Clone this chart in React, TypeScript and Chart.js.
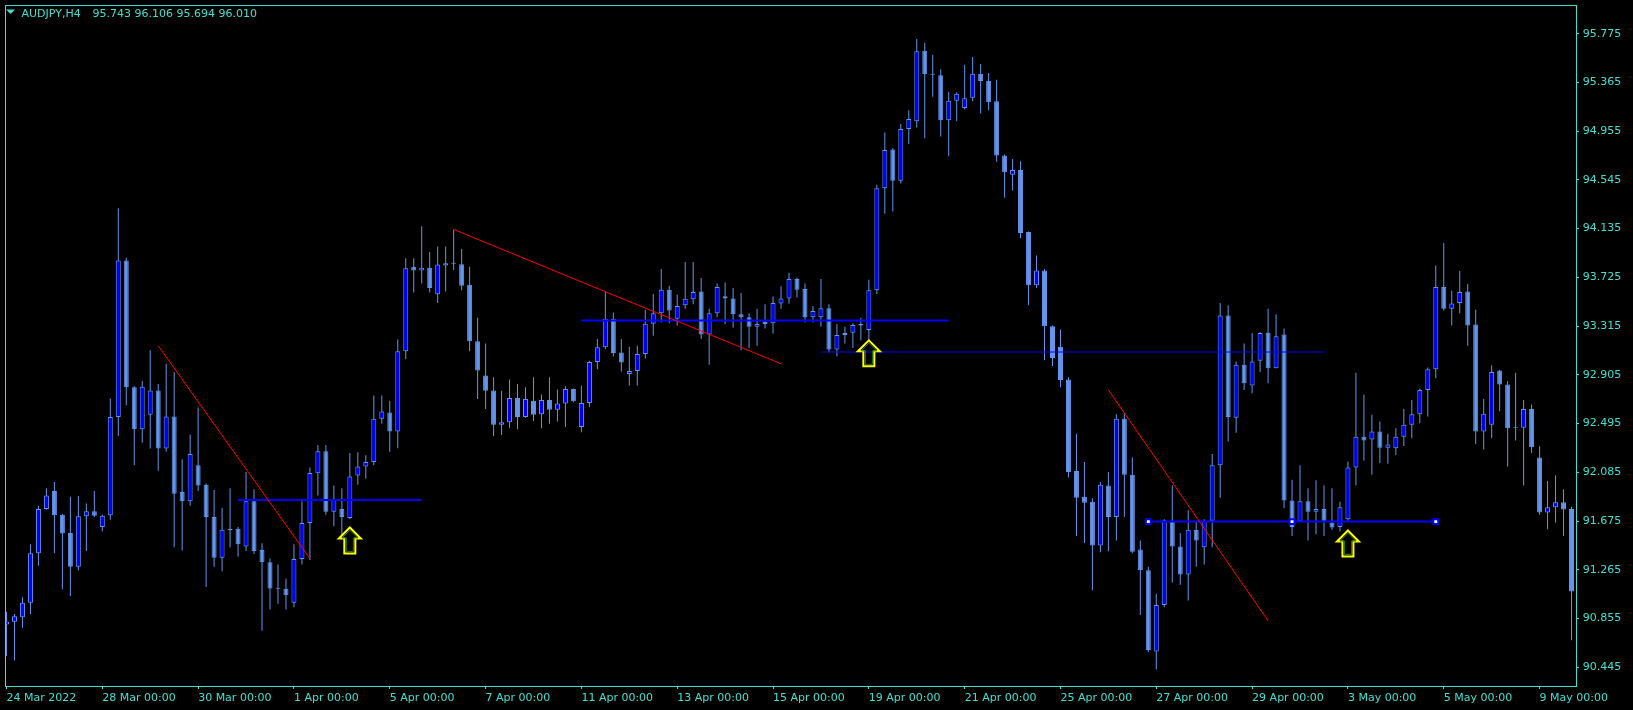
import React, { useEffect, useRef } from "react";
import { Chart, registerables } from "chart.js";

Chart.register(...registerables);

// ---------- data ----------
const OPEN = [
  90.805, 90.828, 90.866, 90.987, 91.404, 91.776, 91.928, 91.727, 91.575, 91.291,
  91.715, 91.757, 91.624, 91.723, 92.550, 93.867, 92.801, 92.448, 92.569, 92.774,
  92.285, 92.554, 91.920, 91.841, 92.144, 91.981, 91.708, 91.366, 91.606, 91.609,
  91.461, 91.841, 91.431, 91.329, 91.108, 91.105, 90.987, 91.355, 91.659, 92.076,
  92.262, 91.753, 91.776, 91.700, 92.057, 92.133, 92.171, 92.535, 92.588, 92.429,
  93.104, 93.814, 93.783, 93.806, 93.582, 93.825, 93.844, 93.836, 93.662, 93.188,
  92.899, 92.774, 92.486, 92.505, 92.709, 92.550, 92.687, 92.573, 92.694, 92.611,
  92.664, 92.785, 92.467, 92.668, 93.013, 93.138, 93.377, 93.093, 92.911, 92.937,
  93.081, 93.335, 93.423, 93.620, 93.377, 93.491, 93.540, 93.605, 93.244, 93.423,
  93.567, 93.548, 93.415, 93.389, 93.309, 93.351, 93.339, 93.506, 93.548, 93.711,
  93.628, 93.389, 93.389, 93.465, 93.119, 93.241, 93.260, 93.320, 93.282, 93.616,
  94.474, 94.800, 94.538, 94.974, 95.039, 95.631, 95.434, 95.426, 95.047, 95.210,
  95.149, 95.236, 95.437, 95.380, 95.206, 94.751, 94.588, 94.629, 94.106, 93.658,
  93.783, 93.313, 93.142, 92.865, 92.095, 91.879, 91.837, 91.469, 91.973, 91.708,
  92.535, 92.065, 91.435, 91.260, 90.577, 90.968, 91.678, 91.461, 91.226, 91.602,
  91.454, 91.678, 92.144, 93.404, 92.543, 92.990, 92.816, 93.024, 93.260, 92.960,
  93.244, 91.848, 91.670, 91.841, 91.753, 91.776, 91.663, 91.624, 91.689, 92.125,
  92.383, 92.360, 92.429, 92.292, 92.288, 92.383, 92.486, 92.573, 92.778, 92.952,
  93.643, 93.461, 93.510, 93.605, 93.328, 92.429, 92.486, 92.941, 92.823, 92.459,
  92.459, 92.618, 92.209, 91.746, 91.791, 91.833, 91.776,
];

const HIGH = [
  90.911, 90.892, 91.033, 91.480, 91.803, 91.951, 92.004, 91.735, 91.879, 91.886,
  91.822, 91.928, 91.730, 92.706, 94.307, 93.890, 92.808, 92.854, 93.112, 92.827,
  92.998, 92.929, 92.194, 92.402, 92.630, 91.990, 91.935, 91.784, 91.951, 91.624,
  92.087, 91.943, 91.488, 91.360, 91.310, 91.190, 91.480, 91.841, 92.125, 92.315,
  92.315, 91.973, 91.951, 92.247, 92.254, 92.228, 92.732, 92.732, 92.687, 93.203,
  93.886, 93.886, 94.155, 93.939, 93.984, 93.984, 94.128, 93.965, 93.814, 93.385,
  93.169, 92.884, 92.770, 92.865, 92.827, 92.801, 92.884, 92.740, 92.884, 92.782,
  92.808, 92.790, 92.816, 93.024, 93.206, 93.605, 93.430, 93.206, 93.142, 93.150,
  93.453, 93.586, 93.795, 93.654, 93.578, 93.855, 93.855, 93.719, 93.461, 93.673,
  93.681, 93.635, 93.593, 93.423, 93.461, 93.499, 93.563, 93.650, 93.764, 93.722,
  93.673, 93.483, 93.711, 93.499, 93.332, 93.309, 93.339, 93.385, 93.704, 94.504,
  94.944, 94.811, 95.016, 95.130, 95.730, 95.699, 95.597, 95.475, 95.286, 95.282,
  95.513, 95.578, 95.521, 95.445, 95.388, 94.758, 94.720, 94.701, 94.110, 93.908,
  93.795, 93.320, 93.286, 92.884, 92.410, 92.171, 91.867, 92.004, 92.087, 92.573,
  92.580, 92.209, 91.511, 91.291, 91.063, 91.689, 91.973, 91.575, 91.765, 91.670,
  91.689, 92.239, 93.510, 93.491, 93.017, 93.169, 93.256, 93.263, 93.461, 93.415,
  93.294, 92.023, 92.144, 91.951, 92.019, 91.977, 91.951, 91.837, 92.175, 92.922,
  92.740, 92.569, 92.512, 92.410, 92.455, 92.618, 92.694, 92.789, 92.967, 93.825,
  94.015, 93.612, 93.779, 93.669, 93.453, 92.702, 92.986, 92.945, 92.854, 92.922,
  92.694, 92.656, 92.304, 92.011, 92.061, 91.943, 91.795,
];

const LOW = [
  90.539, 90.501, 90.778, 90.892, 91.298, 91.769, 91.404, 91.101, 91.044, 91.260,
  91.423, 91.708, 91.586, 91.685, 92.391, 92.649, 92.144, 92.334, 92.285, 92.099,
  92.258, 91.454, 91.427, 91.803, 91.928, 91.120, 91.291, 91.253, 91.454, 91.374,
  91.423, 91.397, 90.752, 90.930, 90.980, 90.930, 90.950, 91.310, 91.348, 91.890,
  91.727, 91.632, 91.556, 91.689, 91.981, 92.030, 92.144, 92.493, 92.258, 92.288,
  93.036, 93.597, 93.673, 93.597, 93.510, 93.605, 93.787, 93.616, 93.104, 92.702,
  92.618, 92.391, 92.398, 92.459, 92.448, 92.543, 92.516, 92.455, 92.493, 92.512,
  92.467, 92.675, 92.421, 92.634, 92.952, 93.123, 93.059, 92.933, 92.816, 92.816,
  93.043, 93.233, 93.347, 93.339, 93.320, 93.461, 93.499, 93.206, 92.990, 93.389,
  93.332, 93.301, 93.112, 93.131, 93.150, 93.294, 93.252, 93.461, 93.503, 93.556,
  93.347, 93.347, 93.309, 93.093, 93.062, 93.169, 93.131, 93.195, 93.195, 93.586,
  94.261, 94.280, 94.515, 94.846, 94.986, 94.895, 95.244, 94.910, 94.743, 95.039,
  95.138, 95.206, 95.104, 95.130, 94.698, 94.394, 94.455, 94.053, 93.491, 93.635,
  93.028, 92.979, 92.801, 92.042, 91.549, 91.491, 91.093, 91.412, 91.420, 91.511,
  91.708, 91.404, 90.885, 90.570, 90.425, 90.949, 91.158, 91.139, 91.006, 91.291,
  91.310, 91.454, 91.871, 92.345, 92.417, 92.778, 92.751, 92.929, 92.835, 92.960,
  91.784, 91.549, 91.670, 91.511, 91.564, 91.549, 91.602, 91.586, 91.678, 91.973,
  92.182, 92.065, 92.163, 92.156, 92.231, 92.307, 92.372, 92.497, 92.554, 92.876,
  93.446, 93.320, 93.423, 93.150, 92.323, 92.277, 92.372, 92.599, 92.133, 92.353,
  91.973, 92.247, 91.727, 91.605, 91.662, 91.549, 90.672,
];

const CLOSE = [
  90.830, 90.873, 90.987, 91.404, 91.776, 91.890, 91.723, 91.571, 91.291, 91.715,
  91.757, 91.719, 91.719, 92.550, 93.867, 92.801, 92.448, 92.804, 92.774, 92.285,
  92.554, 91.905, 91.841, 92.239, 91.973, 91.708, 91.366, 91.602, 91.600, 91.480,
  91.841, 91.423, 91.329, 91.108, 91.105, 91.050, 91.355, 91.659, 92.080, 92.262,
  91.753, 91.852, 91.708, 92.049, 92.133, 92.171, 92.535, 92.596, 92.429, 93.104,
  93.802, 93.783, 93.806, 93.635, 93.833, 93.844, 93.840, 93.654, 93.188, 92.941,
  92.770, 92.486, 92.505, 92.709, 92.550, 92.702, 92.569, 92.694, 92.611, 92.664,
  92.785, 92.683, 92.668, 93.013, 93.138, 93.377, 93.089, 93.009, 92.937, 93.081,
  93.335, 93.423, 93.620, 93.446, 93.483, 93.544, 93.601, 93.244, 93.423, 93.643,
  93.548, 93.415, 93.389, 93.309, 93.332, 93.332, 93.510, 93.548, 93.711, 93.620,
  93.389, 93.442, 93.465, 93.119, 93.241, 93.256, 93.324, 93.332, 93.616, 94.474,
  94.796, 94.538, 94.974, 95.058, 95.627, 95.434, 95.430, 95.047, 95.210, 95.270,
  95.232, 95.437, 95.377, 95.198, 94.751, 94.610, 94.629, 94.098, 93.658, 93.783,
  93.313, 93.047, 92.861, 92.087, 91.871, 91.829, 91.469, 91.981, 91.708, 92.535,
  92.065, 91.416, 91.260, 90.589, 90.968, 91.681, 91.461, 91.226, 91.602, 91.511,
  91.678, 92.144, 93.404, 92.550, 92.990, 92.835, 93.017, 93.256, 92.960, 93.229,
  91.848, 91.624, 91.841, 91.753, 91.776, 91.678, 91.621, 91.791, 92.125, 92.383,
  92.353, 92.429, 92.292, 92.319, 92.383, 92.486, 92.573, 92.778, 92.952, 93.643,
  93.461, 93.506, 93.601, 93.320, 92.429, 92.577, 92.929, 92.823, 92.455, 92.455,
  92.618, 92.296, 91.746, 91.791, 91.833, 91.772, 91.082,
];

const DATE_TICK_INDEX = [0, 12, 24, 36, 48, 60, 72, 84, 96, 108, 120, 132, 144, 156, 168, 180, 192];
const DATE_TICK_LABELS = [
  "24 Mar 2022", "28 Mar 00:00", "30 Mar 00:00", "1 Apr 00:00", "5 Apr 00:00",
  "7 Apr 00:00", "11 Apr 00:00", "13 Apr 00:00", "15 Apr 00:00", "19 Apr 00:00",
  "21 Apr 00:00", "25 Apr 00:00", "27 Apr 00:00", "29 Apr 00:00", "3 May 00:00",
  "5 May 00:00", "9 May 00:00",
];
const PRICE_TICKS = [
  95.775, 95.365, 94.955, 94.545, 94.135, 93.725, 93.315,
  92.905, 92.495, 92.085, 91.675, 91.265, 90.855, 90.445,
];

const SYMBOL_TEXT = "AUDJPY,H4";
const OHLC_TEXT = "95.743 96.106 95.694 96.010";

// red trend lines (bar index / price of both ends)
const RED_TREND_X1 = [19, 56, 138];
const RED_TREND_Y1 = [93.150, 94.128, 92.778];
const RED_TREND_X2 = [38, 97, 158];
const RED_TREND_Y2 = [91.359, 92.998, 90.835];

// blue horizontal levels
const BLUE_LEVEL_PRICE = [91.852, 93.362, 93.097, 91.670];
const BLUE_LEVEL_FROM = [29, 72, 102, 143];
const BLUE_LEVEL_TO = [52, 118, 165, 179];

// signal arrows
const ARROW_BAR = [43, 108, 168];
const ARROW_PRICE = [91.621, 93.195, 91.595];

// ---------- styles ----------
const TEXT = "#40E0D0";
const CANDLE = "#6495ED";
const BULL_FILL = "#0000FF";
const FONT_FAMILY = '"DejaVu Sans", sans-serif';

function drawArrow(ctx: CanvasRenderingContext2D, cx: number, top: number) {
  const hw = 11, sw = 5.5, hh = 11, h = 26;
  ctx.save();
  ctx.beginPath();
  ctx.moveTo(cx, top);
  ctx.lineTo(cx + hw, top + hh);
  ctx.lineTo(cx + sw, top + hh);
  ctx.lineTo(cx + sw, top + h);
  ctx.lineTo(cx - sw, top + h);
  ctx.lineTo(cx - sw, top + hh);
  ctx.lineTo(cx - hw, top + hh);
  ctx.closePath();
  ctx.lineJoin = "miter";
  ctx.strokeStyle = "#FFFF00";
  ctx.lineWidth = 2;
  ctx.stroke();
  // inner green edge
  const ihw = hw - 3.2, isw = sw - 2, ihh = hh - 0.5;
  ctx.beginPath();
  ctx.moveTo(cx, top + 2.8);
  ctx.lineTo(cx + ihw, top + ihh);
  ctx.lineTo(cx + isw, top + ihh);
  ctx.lineTo(cx + isw, top + h - 2);
  ctx.lineTo(cx - isw, top + h - 2);
  ctx.lineTo(cx - isw, top + ihh);
  ctx.lineTo(cx - ihw, top + ihh);
  ctx.closePath();
  ctx.strokeStyle = "#1E7A1E";
  ctx.lineWidth = 1;
  ctx.stroke();
  ctx.restore();
}

const mt4Plugin = {
  id: "mt4Decor",
  beforeDraw(chart: any) {
    const ctx = chart.ctx as CanvasRenderingContext2D;
    ctx.save();
    ctx.fillStyle = "#000000";
    ctx.fillRect(0, 0, chart.width, chart.height);
    ctx.restore();
  },
  afterDatasetsDraw(chart: any) {
    const ctx = chart.ctx as CanvasRenderingContext2D;
    const { left, top, right, bottom } = chart.chartArea;
    const xs = chart.scales.x;
    const ys = chart.scales.y;
    // arrows
    ctx.save();
    ctx.beginPath();
    ctx.rect(left, top, right - left, bottom - top);
    ctx.clip();
    for (let k = 0; k < ARROW_BAR.length; k++) {
      drawArrow(ctx, xs.getPixelForValue(ARROW_BAR[k]), ys.getPixelForValue(ARROW_PRICE[k]));
    }
    ctx.restore();
    // frame
    ctx.save();
    ctx.strokeStyle = TEXT;
    ctx.lineWidth = 1;
    ctx.strokeRect(left - 0.5, top - 0.5, right - left + 1, bottom - top + 1);
    // header
    ctx.fillStyle = TEXT;
    ctx.beginPath();
    ctx.moveTo(6, 9.5);
    ctx.lineTo(15, 9.5);
    ctx.lineTo(10.5, 14);
    ctx.closePath();
    ctx.fill();
    ctx.font = `11px ${FONT_FAMILY}`;
    ctx.textBaseline = "alphabetic";
    ctx.textAlign = "left";
    ctx.fillText(SYMBOL_TEXT, 21.5, 17);
    ctx.fillText(OHLC_TEXT, 92.5, 17);
    ctx.restore();
  },
};

export default function App() {
  const ref = useRef<HTMLCanvasElement | null>(null);

  useEffect(() => {
    document.body.style.margin = "0";
    document.body.style.background = "#000";
    const n = OPEN.length;
    const bodies = [];
    const wicks = [];
    const bodyColors: string[] = [];
    for (let i = 0; i < n; i++) {
      bodies.push({ x: i, y: [OPEN[i], CLOSE[i]] });
      wicks.push({ x: i, y: [LOW[i], HIGH[i]] });
      bodyColors.push(CLOSE[i] > OPEN[i] ? BULL_FILL : CANDLE);
    }

    const lineSets: any[] = [];
    for (let k = 0; k < RED_TREND_X1.length; k++) {
      lineSets.push({
        type: "line",
        data: [
          { x: RED_TREND_X1[k], y: RED_TREND_Y1[k] },
          { x: RED_TREND_X2[k], y: RED_TREND_Y2[k] },
        ],
        borderColor: "#FF0000",
        borderWidth: 1,
        pointRadius: 0,
        order: 0,
      });
    }
    for (let k = 0; k < BLUE_LEVEL_PRICE.length; k++) {
      const selected = k === 3;
      const pts = [{ x: BLUE_LEVEL_FROM[k], y: BLUE_LEVEL_PRICE[k] }];
      if (selected) pts.push({ x: (BLUE_LEVEL_FROM[k] + BLUE_LEVEL_TO[k]) / 2, y: BLUE_LEVEL_PRICE[k] });
      pts.push({ x: BLUE_LEVEL_TO[k], y: BLUE_LEVEL_PRICE[k] });
      lineSets.push({
        type: "line",
        data: pts,
        borderColor: "#0000FF",
        borderWidth: k === 2 ? 1 : 2,
        pointRadius: selected ? 3.5 : 0,
        pointStyle: "rect",
        pointBackgroundColor: "#FFFFFF",
        pointBorderColor: "#0000FF",
        pointBorderWidth: 2,
        order: 0,
      });
    }

    const chart = new Chart(ref.current as HTMLCanvasElement, {
      type: "bar",
      data: {
        datasets: [
          ...lineSets,
          {
            type: "bar",
            data: bodies as any,
            backgroundColor: bodyColors,
            borderColor: CANDLE,
            borderWidth: 1,
            borderSkipped: false,
            barThickness: 5,
            grouped: false,
            minBarLength: 1,
            inflateAmount: 0,
            order: 1,
          } as any,
          {
            type: "bar",
            data: wicks as any,
            backgroundColor: CANDLE,
            borderWidth: 0,
            barThickness: 1,
            grouped: false,
            minBarLength: 1,
            inflateAmount: 0,
            order: 2,
          } as any,
        ],
      },
      options: {
        animation: false,
        responsive: false,
        devicePixelRatio: 1,
        events: [],
        layout: { padding: { left: 3, top: 3, right: 0, bottom: 0 } },
        plugins: { legend: { display: false }, tooltip: { enabled: false }, title: { display: false } },
        scales: {
          x: {
            type: "linear",
            position: "bottom",
            min: -0.0625,
            max: 196.5625,
            offset: false,
            afterBuildTicks: (s: any) => {
              s.ticks = DATE_TICK_INDEX.map((v) => ({ value: v }));
            },
            afterFit: (s: any) => {
              s.height = 24;
              s.paddingLeft = 0; s.paddingRight = 0; s.paddingTop = 0; s.paddingBottom = 0;
            },
            ticks: {
              autoSkip: false,
              maxRotation: 0,
              minRotation: 0,
              align: "start",
              color: TEXT,
              padding: 2.4,
              font: { family: FONT_FAMILY, size: 11 },
              callback: (v: any) => {
                const k = DATE_TICK_INDEX.indexOf(Number(v));
                return k >= 0 ? DATE_TICK_LABELS[k] : "";
              },
            },
            grid: { drawOnChartArea: false, drawTicks: true, tickLength: 3, color: TEXT, offset: false },
            border: { display: false },
          } as any,
          y: {
            type: "linear",
            position: "right",
            min: 90.287,
            max: 96.008,
            afterBuildTicks: (s: any) => {
              s.ticks = PRICE_TICKS.map((v) => ({ value: v }));
            },
            afterFit: (s: any) => {
              s.width = 57;
              s.paddingLeft = 0; s.paddingRight = 0; s.paddingTop = 0; s.paddingBottom = 0;
            },
            ticks: {
              color: TEXT,
              padding: 3.7,
              font: { family: FONT_FAMILY, size: 11 },
              callback: (v: any) => Number(v).toFixed(3),
            },
            grid: { drawOnChartArea: false, drawTicks: true, tickLength: 3, color: TEXT },
            border: { display: false },
          } as any,
        },
      },
      plugins: [mt4Plugin],
    } as any);
    return () => chart.destroy();
  }, []);

  return (
    <div style={{ position: "fixed", left: 0, top: 0, width: 1633, height: 710, background: "#000", overflow: "hidden" }}>
      <canvas ref={ref} width={1633} height={710} style={{ display: "block", width: 1633, height: 710 }} />
    </div>
  );
}
